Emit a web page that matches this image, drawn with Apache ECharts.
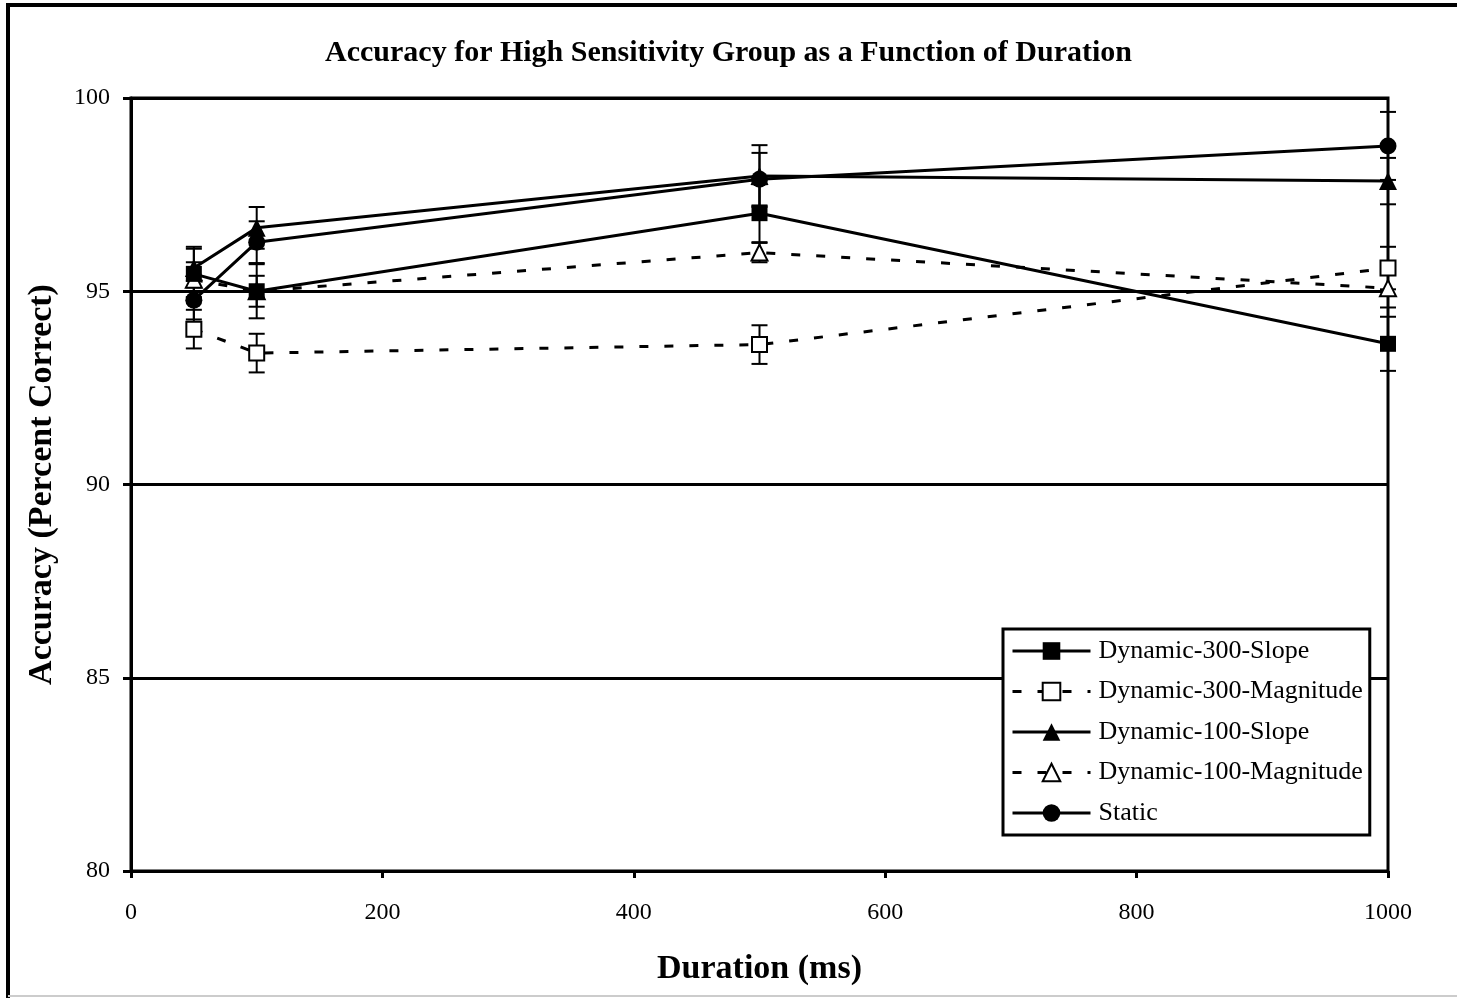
<!DOCTYPE html>
<html>
<head>
<meta charset="utf-8">
<script src="https://cdn.jsdelivr.net/npm/echarts@6/dist/echarts.min.js"></script>
<style>
  html, body { margin: 0; padding: 0; background: #fff; }
  #chart { width: 1457px; height: 998px; }
</style>
</head>
<body>
<div id="chart"></div>
<script>
// durations (ms)
const durations = [50, 100, 500, 1000];

// accuracy means (percent correct) and error bar half-widths
const dyn300Slope = [95.45, 95.0, 97.02, 93.64];
const dyn300SlopeErr = [0.7, 0.7, 0.75, 0.7];
const dyn300Mag = [94.02, 93.4, 93.62, 95.6];
const dyn300MagErr = [0.5, 0.5, 0.5, 0.55];
const dyn100Slope = [95.6, 96.64, 97.98, 97.85];
const dyn100SlopeErr = [0.5, 0.54, 0.8, 0.6];
const dyn100Mag = [95.3, 95.0, 96.0, 95.08];
const dyn100MagErr = [0.45, 0.4, 0.25, 0.5];
const staticAcc = [94.77, 96.27, 97.9, 98.76];
const staticErr = [0.5, 0.54, 0.68, 0.88];

const FONT = '"Liberation Serif", "Times New Roman", serif';

const chart = echarts.init(document.getElementById('chart'));

function pairs(ys) {
  return durations.map((x, i) => [x, ys[i]]);
}

// error bars: [x, low, high]
function errData(ys, es) {
  return durations.map((x, i) => [x, ys[i] - es[i], ys[i] + es[i]]);
}

function errSeries(ys, es) {
  return {
    type: 'custom',
    silent: true,
    z: 1,
    data: errData(ys, es),
    encode: { x: 0, y: [1, 2] },
    renderItem(params, api) {
      const x = api.value(0);
      const lo = api.coord([x, api.value(1)]);
      const hi = api.coord([x, api.value(2)]);
      const half = 8;
      const style = { stroke: '#000', lineWidth: 2 };
      return {
        type: 'group',
        children: [
          { type: 'line', shape: { x1: lo[0], y1: lo[1], x2: hi[0], y2: hi[1] }, style },
          { type: 'line', shape: { x1: lo[0] - half, y1: lo[1], x2: lo[0] + half, y2: lo[1] }, style },
          { type: 'line', shape: { x1: hi[0] - half, y1: hi[1], x2: hi[0] + half, y2: hi[1] }, style },
        ],
      };
    },
  };
}

function lineSeries(name, ys, symbol, size, filled, dashed) {
  return {
    name,
    type: 'line',
    // hollow markers sit underneath the filled ones, as in the original
    z: filled ? 3 : 2,
    data: pairs(ys),
    symbol,
    symbolSize: size,
    showAllSymbol: true,
    lineStyle: {
      color: '#000',
      width: 3,
      type: dashed ? [9, 16] : 'solid',
    },
    itemStyle: {
      color: filled ? '#000' : '#fff',
      borderColor: '#000',
      borderWidth: filled ? 0 : 2,
    },
  };
}

const option = {
  backgroundColor: '#fff',
  animation: false,
  title: {
    text: 'Accuracy for High Sensitivity Group as a Function of Duration',
    left: 'center',
    top: 33,
    textStyle: {
      fontFamily: FONT,
      fontWeight: 'bold',
      fontSize: 30,
      color: '#000',
    },
  },
  legend: {
    orient: 'vertical',
    left: 1003,
    top: 629,
    padding: [9, 7, 9, 8],
    itemWidth: 78,
    itemHeight: 22,
    itemGap: 14.5,
    borderColor: '#000',
    borderWidth: 3,
    backgroundColor: '#fff',
    lineStyle: { width: 3 },
    textStyle: {
      fontFamily: FONT,
      fontSize: 26,
      color: '#000',
      padding: [0, 0, 0, 3],
    },
    data: [
      'Dynamic-300-Slope',
      'Dynamic-300-Magnitude',
      'Dynamic-100-Slope',
      'Dynamic-100-Magnitude',
      'Static',
    ],
  },
  grid: {
    left: 131,
    right: 69,
    top: 98,
    bottom: 127,
    show: true,
    borderColor: '#000',
    borderWidth: 3,
    backgroundColor: 'transparent',
  },
  xAxis: {
    type: 'value',
    min: 0,
    max: 1000,
    interval: 200,
    name: 'Duration (ms)',
    nameLocation: 'middle',
    nameGap: 81,
    nameTextStyle: {
      fontFamily: FONT,
      fontWeight: 'bold',
      fontSize: 34,
      color: '#000',
    },
    axisLine: { show: true, lineStyle: { color: '#000', width: 3 } },
    axisTick: { show: true, length: 7, lineStyle: { color: '#000', width: 3 } },
    axisLabel: {
      fontFamily: FONT,
      fontSize: 24,
      color: '#000',
      margin: 30,
      formatter: (v) => String(v),
    },
    splitLine: { show: false },
  },
  yAxis: {
    type: 'value',
    min: 80,
    max: 100,
    interval: 5,
    name: 'Accuracy (Percent Correct)',
    nameLocation: 'middle',
    nameGap: 72,
    nameTextStyle: {
      fontFamily: FONT,
      fontWeight: 'bold',
      fontSize: 34,
      color: '#000',
    },
    axisLine: { show: true, lineStyle: { color: '#000', width: 3 } },
    axisTick: { show: true, length: 8, lineStyle: { color: '#000', width: 3 } },
    axisLabel: {
      fontFamily: FONT,
      fontSize: 24,
      color: '#000',
      margin: 21,
    },
    splitLine: { show: true, lineStyle: { color: '#000', width: 3 } },
  },
  graphic: [
    // outer chart-area frame (cut off on the right)
    { type: 'line', shape: { x1: 6, y1: 5, x2: 1457, y2: 5 }, style: { stroke: '#000', lineWidth: 4 } },
    { type: 'line', shape: { x1: 8, y1: 5, x2: 8, y2: 998 }, style: { stroke: '#000', lineWidth: 4 } },
    { type: 'line', shape: { x1: 8, y1: 996, x2: 1457, y2: 996 }, style: { stroke: '#ccc', lineWidth: 2 } },
  ],
  series: [
    errSeries(dyn300Slope, dyn300SlopeErr),
    errSeries(dyn300Mag, dyn300MagErr),
    errSeries(dyn100Slope, dyn100SlopeErr),
    errSeries(dyn100Mag, dyn100MagErr),
    errSeries(staticAcc, staticErr),
    lineSeries('Dynamic-300-Slope', dyn300Slope, 'rect', 16, true, false),
    lineSeries('Dynamic-300-Magnitude', dyn300Mag, 'rect', 15, false, true),
    lineSeries('Dynamic-100-Slope', dyn100Slope, 'triangle', 18, true, false),
    lineSeries('Dynamic-100-Magnitude', dyn100Mag, 'triangle', 16, false, true),
    lineSeries('Static', staticAcc, 'circle', 17, true, false),
  ],
};

chart.setOption(option);
</script>
</body>
</html>
